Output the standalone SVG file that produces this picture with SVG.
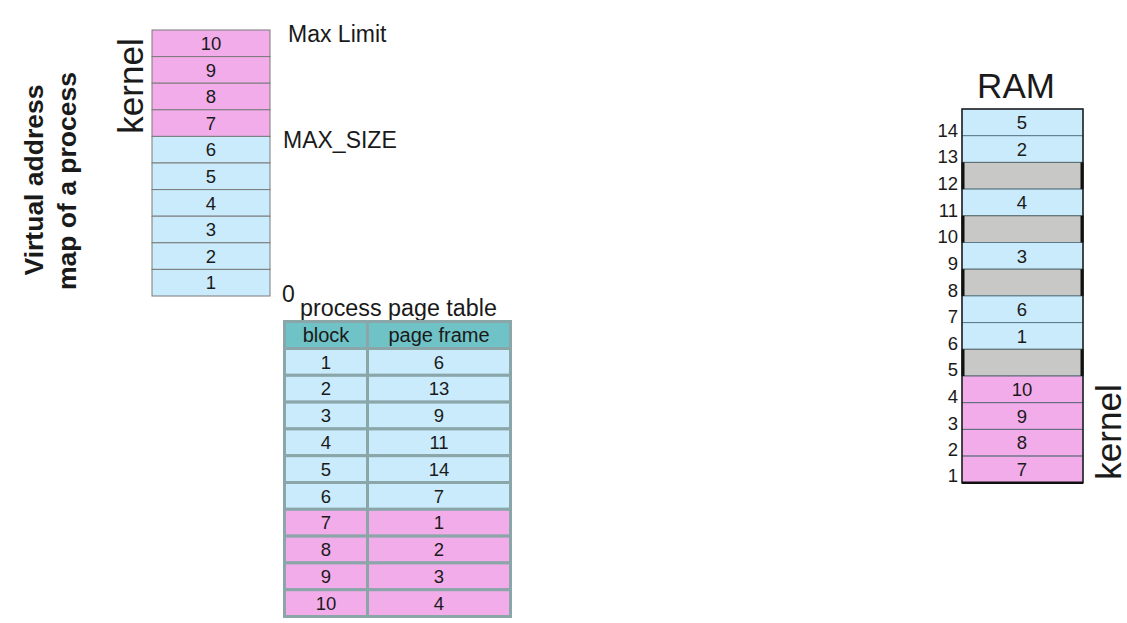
<svg xmlns="http://www.w3.org/2000/svg" width="1127" height="623" viewBox="0 0 1127 623">
<style>
text{font-family:"Liberation Sans",Arial,sans-serif;fill:#1a1a1a}
.c{text-anchor:middle;font-size:18.5px}
.pk{fill:#f2acea;stroke:#7a7a7a;stroke-width:1}
.bl{fill:#c9ebfc;stroke:#7a7a7a;stroke-width:1}
.tpk{fill:#f2acea;stroke:#8aa6a8;stroke-width:3}
.tbl{fill:#c9ebfc;stroke:#8aa6a8;stroke-width:3}
.th{fill:#6fc2c6;stroke:#8aa6a8;stroke-width:3}
.rpk{fill:#f2acea;stroke:#5a6a78;stroke-width:1}
.rbl{fill:#c9ebfc;stroke:#5a7a8a;stroke-width:1}
.rgy{fill:#c8c8c6;stroke:#5a6a6a;stroke-width:1}
.edge{stroke:#111;stroke-width:3}
.lbl{font-size:18.5px;text-anchor:end}
.big{font-size:35px}
.side{font-size:26.5px;font-weight:bold;text-anchor:middle}
</style>
<rect width="1127" height="623" fill="#ffffff"/>

<g id="title">
<text class="side" transform="translate(43,180) rotate(-90)">Virtual address</text>
<text class="side" transform="translate(76,181) rotate(-90)">map of a process</text>
</g>

<g id="virtual-map">
<text class="big" text-anchor="middle" transform="translate(143,86) rotate(-90)">kernel</text>
<rect class="pk" x="152" y="30" width="118" height="26.6"/><text class="c" x="211" y="50">10</text>
<rect class="pk" x="152" y="56.6" width="118" height="26.6"/><text class="c" x="211" y="76.6">9</text>
<rect class="pk" x="152" y="83.2" width="118" height="26.6"/><text class="c" x="211" y="103.2">8</text>
<rect class="pk" x="152" y="109.8" width="118" height="26.6"/><text class="c" x="211" y="129.8">7</text>
<rect class="bl" x="152" y="136.4" width="118" height="26.6"/><text class="c" x="211" y="156.4">6</text>
<rect class="bl" x="152" y="163" width="118" height="26.6"/><text class="c" x="211" y="183">5</text>
<rect class="bl" x="152" y="189.6" width="118" height="26.6"/><text class="c" x="211" y="209.6">4</text>
<rect class="bl" x="152" y="216.2" width="118" height="26.6"/><text class="c" x="211" y="236.2">3</text>
<rect class="bl" x="152" y="242.8" width="118" height="26.6"/><text class="c" x="211" y="262.8">2</text>
<rect class="bl" x="152" y="269.4" width="118" height="26.6"/><text class="c" x="211" y="289.4">1</text>
<text x="288" y="42" font-size="23">Max Limit</text>
<text x="283" y="148" font-size="23">MAX_SIZE</text>
<text x="282" y="302" font-size="23">0</text>
</g>

<g id="page-table">
<text x="300" y="316" font-size="23.3">process page table</text>
<rect x="283" y="320" width="229" height="298" fill="#8aa6a8"/>
<rect class="th" x="284.5" y="321.5" width="83" height="27"/><rect class="th" x="367.5" y="321.5" width="143" height="27"/>
<text x="326" y="342" font-size="20" text-anchor="middle">block</text>
<text x="439" y="342" font-size="20" text-anchor="middle">page frame</text>

<rect class="tbl" x="284.5" y="348.5" width="83" height="26.8"/><rect class="tbl" x="367.5" y="348.5" width="143" height="26.8"/>
<text class="c" x="326" y="368.5">1</text><text class="c" x="439" y="368.5">6</text>
<rect class="tbl" x="284.5" y="375.3" width="83" height="26.8"/><rect class="tbl" x="367.5" y="375.3" width="143" height="26.8"/>
<text class="c" x="326" y="395.3">2</text><text class="c" x="439" y="395.3">13</text>
<rect class="tbl" x="284.5" y="402.1" width="83" height="26.8"/><rect class="tbl" x="367.5" y="402.1" width="143" height="26.8"/>
<text class="c" x="326" y="422.1">3</text><text class="c" x="439" y="422.1">9</text>
<rect class="tbl" x="284.5" y="428.9" width="83" height="26.8"/><rect class="tbl" x="367.5" y="428.9" width="143" height="26.8"/>
<text class="c" x="326" y="448.9">4</text><text class="c" x="439" y="448.9">11</text>
<rect class="tbl" x="284.5" y="455.7" width="83" height="26.8"/><rect class="tbl" x="367.5" y="455.7" width="143" height="26.8"/>
<text class="c" x="326" y="475.7">5</text><text class="c" x="439" y="475.7">14</text>
<rect class="tbl" x="284.5" y="482.5" width="83" height="26.8"/><rect class="tbl" x="367.5" y="482.5" width="143" height="26.8"/>
<text class="c" x="326" y="502.5">6</text><text class="c" x="439" y="502.5">7</text>
<rect class="tpk" x="284.5" y="509.3" width="83" height="26.8"/><rect class="tpk" x="367.5" y="509.3" width="143" height="26.8"/>
<text class="c" x="326" y="529.3">7</text><text class="c" x="439" y="529.3">1</text>
<rect class="tpk" x="284.5" y="536.1" width="83" height="26.8"/><rect class="tpk" x="367.5" y="536.1" width="143" height="26.8"/>
<text class="c" x="326" y="556.1">8</text><text class="c" x="439" y="556.1">2</text>
<rect class="tpk" x="284.5" y="562.9" width="83" height="26.8"/><rect class="tpk" x="367.5" y="562.9" width="143" height="26.8"/>
<text class="c" x="326" y="582.9">9</text><text class="c" x="439" y="582.9">3</text>
<rect class="tpk" x="284.5" y="589.7" width="83" height="26.8"/><rect class="tpk" x="367.5" y="589.7" width="143" height="26.8"/>
<text class="c" x="326" y="609.7">10</text><text class="c" x="439" y="609.7">4</text>
</g>

<g id="ram">
<text class="big" x="1016" y="98" text-anchor="middle">RAM</text>
<rect class="rbl" x="962" y="109" width="121" height="26.7"/><text class="c" x="1022" y="129">5</text>
<rect class="rbl" x="962" y="135.7" width="121" height="26.7"/><text class="c" x="1022" y="155.7">2</text>
<rect class="rgy" x="962" y="162.4" width="121" height="26.7"/>
<rect class="rbl" x="962" y="189.1" width="121" height="26.7"/><text class="c" x="1022" y="209.1">4</text>
<rect class="rgy" x="962" y="215.8" width="121" height="26.7"/>
<rect class="rbl" x="962" y="242.5" width="121" height="26.7"/><text class="c" x="1022" y="262.5">3</text>
<rect class="rgy" x="962" y="269.2" width="121" height="26.7"/>
<rect class="rbl" x="962" y="295.9" width="121" height="26.7"/><text class="c" x="1022" y="315.9">6</text>
<rect class="rbl" x="962" y="322.6" width="121" height="26.7"/><text class="c" x="1022" y="342.6">1</text>
<rect class="rgy" x="962" y="349.3" width="121" height="26.7"/>
<rect class="rpk" x="962" y="376" width="121" height="26.7"/><text class="c" x="1022" y="396">10</text>
<rect class="rpk" x="962" y="402.7" width="121" height="26.7"/><text class="c" x="1022" y="422.7">9</text>
<rect class="rpk" x="962" y="429.4" width="121" height="26.7"/><text class="c" x="1022" y="449.4">8</text>
<rect class="rpk" x="962" y="456.1" width="121" height="26.7"/><text class="c" x="1022" y="476.1">7</text>
<rect x="962" y="109" width="121" height="373.8" fill="none" stroke="#222" stroke-width="1.5"/>
<line class="edge" x1="963" y1="162.4" x2="963" y2="189.1"/><line class="edge" x1="1082" y1="162.4" x2="1082" y2="189.1"/>
<line class="edge" x1="963" y1="215.8" x2="963" y2="242.5"/><line class="edge" x1="1082" y1="215.8" x2="1082" y2="242.5"/>
<line class="edge" x1="963" y1="269.2" x2="963" y2="295.9"/><line class="edge" x1="1082" y1="269.2" x2="1082" y2="295.9"/>
<line class="edge" x1="963" y1="349.3" x2="963" y2="376"/><line class="edge" x1="1082" y1="349.3" x2="1082" y2="376"/>
<line x1="962" y1="482.8" x2="1083" y2="482.8" stroke="#111" stroke-width="2.5"/>
<text class="lbl" x="958" y="137">14</text>
<text class="lbl" x="958" y="163">13</text>
<text class="lbl" x="958" y="190">12</text>
<text class="lbl" x="958" y="217">11</text>
<text class="lbl" x="958" y="243">10</text>
<text class="lbl" x="958" y="270">9</text>
<text class="lbl" x="958" y="297">8</text>
<text class="lbl" x="958" y="323">7</text>
<text class="lbl" x="958" y="350">6</text>
<text class="lbl" x="958" y="376">5</text>
<text class="lbl" x="958" y="403">4</text>
<text class="lbl" x="958" y="430">3</text>
<text class="lbl" x="958" y="456">2</text>
<text class="lbl" x="958" y="482">1</text>
<text class="big" text-anchor="middle" transform="translate(1121,432) rotate(-90)">kernel</text>
</g>
<g id="connectors"/>
</svg>
